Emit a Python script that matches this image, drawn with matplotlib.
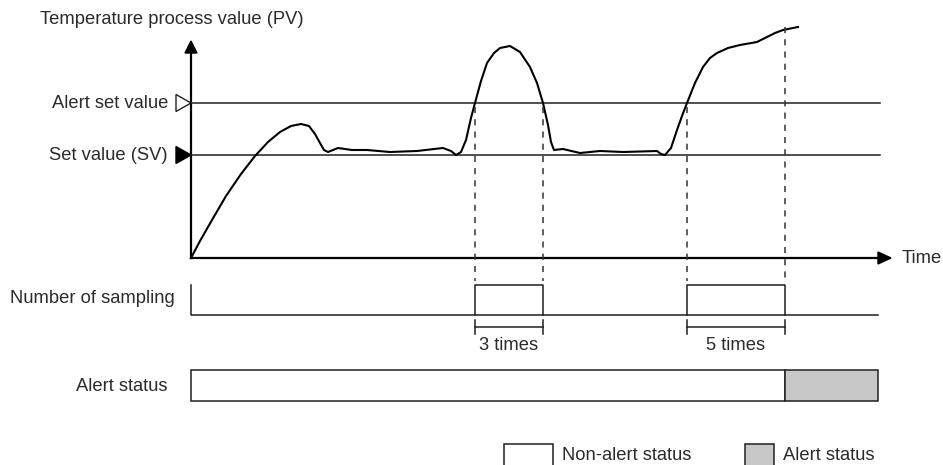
import matplotlib.pyplot as plt
from matplotlib.patches import Polygon, Rectangle

plt.rcParams['font.family'] = ['Liberation Sans', 'DejaVu Sans']

# ── Diagram units (pixel-like, y grows downward) ─────────────────────
x0, x_end = 191, 880          # time axis start / end of reference lines
y_origin = 258                # PV axis origin
alert_y, sv_y = 103, 155      # alert set value / set value levels

# PV curve
pv_t = [191, 200, 212, 226, 241, 255, 268, 280, 291, 301, 309, 315, 320, 324,
        328, 338, 352, 367, 390, 417, 443, 451, 456, 461, 466, 471, 475, 481,
        487, 494, 500, 510, 520, 530, 537, 543, 548, 551, 554, 563, 580, 600,
        623, 657, 661, 665, 671, 677, 682, 687, 695, 703, 710, 717, 728, 740,
        757, 767, 775, 783, 798]
pv_v = [258, 241, 220, 196, 174, 156, 142, 132, 126, 124, 126, 134, 143, 150,
        152, 148, 150, 150, 152, 151, 148, 151, 155, 152, 140, 118, 103, 81,
        63, 53, 48, 46, 52, 67, 83, 103, 125, 142, 150, 149, 153, 151,
        152, 151, 154, 155, 148, 130, 116, 103, 83, 67, 58, 53, 48, 45,
        42, 37, 33, 30, 27]

crossings = [475, 543, 687, 785]
pulses = [(475, 543), (687, 785)]
pulse_labels = ['3 times', '5 times']
alert_from = 785

fig = plt.figure(figsize=(9.43, 4.65), dpi=100)
ax = fig.add_axes([0, 0, 1, 1])
ax.set_xlim(0, 943)
ax.set_ylim(465, 0)
ax.axis('off')

txt = dict(color='#2b2b2b', fontsize=13.2)
lc = '#231f20'

# axes + arrows
ax.plot([x0, x0], [y_origin, 50], color='black', lw=1.6)
ax.plot([x0, 880], [y_origin, y_origin], color='black', lw=1.6)
ax.add_patch(Polygon([[x0, 41], [x0 - 6, 53], [x0 + 6, 53]], closed=True, color='black'))
ax.add_patch(Polygon([[891, y_origin], [878, y_origin - 6], [878, y_origin + 6]], closed=True, color='black'))
ax.text(40, 19, 'Temperature process value (PV)', ha='left', va='center', **txt)
ax.text(902, 258, 'Time', ha='left', va='center', **txt)

# reference levels
ax.plot([x0, x_end], [alert_y, alert_y], color=lc, lw=1.1)
ax.plot([x0, x_end], [sv_y, sv_y], color=lc, lw=1.1)
ax.add_patch(Polygon([[176, alert_y - 8.5], [191, alert_y], [176, alert_y + 8.5]], closed=True,
                     facecolor='white', edgecolor=lc, lw=1.0))
ax.add_patch(Polygon([[176, sv_y - 8.5], [191, sv_y], [176, sv_y + 8.5]], closed=True, color='black'))
ax.text(168, alert_y, 'Alert set value', ha='right', va='center', **txt)
ax.text(168, sv_y, 'Set value (SV)', ha='right', va='center', **txt)

# PV curve
ax.plot(pv_t, pv_v, color='black', lw=1.5, solid_joinstyle='round')

# dashed crossing markers
for i, cx in enumerate(crossings):
    top = 27 if i == 3 else alert_y + 4
    ax.plot([cx, cx], [top, 281], color='#333333', lw=1.1, ls=(0, (4, 4)))

# number of sampling row
ax.text(175, 298, 'Number of sampling', ha='right', va='center', **txt)
ax.plot([x0, x0, 878], [285, 315, 315], color=lc, lw=1.1)
for (a, b), lab in zip(pulses, pulse_labels):
    ax.plot([a, a, b, b], [315, 285, 285, 315], color=lc, lw=1.1)
    ax.plot([a, b], [327, 327], color=lc, lw=1.1)
    ax.plot([a, a], [320, 334], color=lc, lw=1.1)
    ax.plot([b, b], [320, 334], color=lc, lw=1.1)
    ax.text((a + b) / 2, 345, lab, ha='center', va='center', **txt)

# alert status row
ax.text(168, 386, 'Alert status', ha='right', va='center', **txt)
ax.add_patch(Rectangle((x0, 370), alert_from - x0, 31, facecolor='white', edgecolor=lc, lw=1.1))
ax.add_patch(Rectangle((alert_from, 370), 878 - alert_from, 31, facecolor='#c8c8c8', edgecolor=lc, lw=1.1))

# legend
ax.add_patch(Rectangle((504, 444), 49, 30, facecolor='white', edgecolor=lc, lw=1.1))
ax.text(562, 455, 'Non-alert status', ha='left', va='center', **txt)
ax.add_patch(Rectangle((745, 444), 29, 30, facecolor='#c8c8c8', edgecolor=lc, lw=1.1))
ax.text(783, 455, 'Alert status', ha='left', va='center', **txt)

fig.savefig('out.png', dpi=100)
